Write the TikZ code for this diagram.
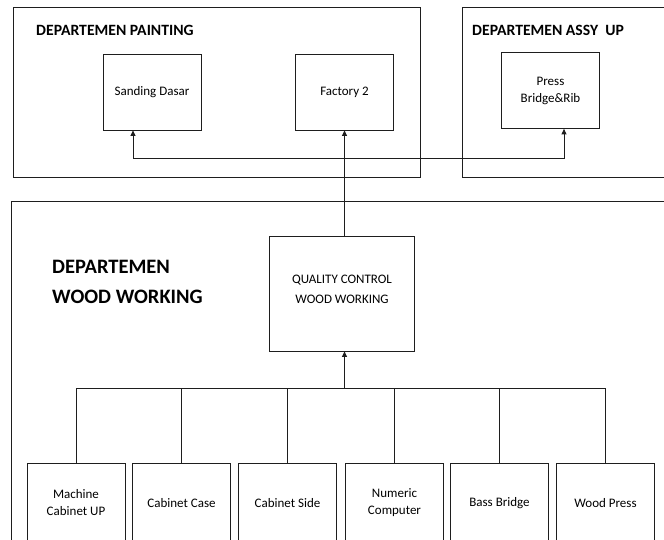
\documentclass[tikz,border=0pt]{standalone}
\usepackage{fontspec}
\setmainfont{Carlito}
\usetikzlibrary{arrows.meta,positioning}
\definecolor{frame}{HTML}{1E1E1E}

\begin{document}
\begin{tikzpicture}[x=1pt,y=-1pt,
  every node/.style={font=\fontsize{13}{17}\selectfont},
  dept/.style={draw=frame,line width=0.8pt,anchor=north west,inner sep=0pt},
  unit/.style={draw=frame,line width=0.8pt,minimum width=98pt,minimum height=76pt,align=center,inner sep=2pt},
  depttitle/.style={anchor=west,inner sep=0pt,font=\fontsize{15.7}{18}\selectfont\bfseries},
  link/.style={draw=frame,line width=0.8pt},
  arr/.style={link,-{Triangle[length=5.5pt,width=5pt]}}]
\useasboundingbox (0,0) rectangle (664,540);
\clip (0,0) rectangle (664,540);
% department frames
\node[dept,minimum width=407pt,minimum height=170pt] (painting) at (13,7) {};
\node[dept,minimum width=260pt,minimum height=170pt] (assy) at (462,7) {};
\node[dept,minimum width=700pt,minimum height=400pt] (woodworking) at (11,201) {};
\node[depttitle] (paintingtitle) at (36,30) {DEPARTEMEN PAINTING};
\node[depttitle] (assytitle) at (472,30) {DEPARTEMEN ASSY\ \ UP};
\node[depttitle,font=\fontsize{20.5}{30}\selectfont\bfseries,align=left] (wwtitle) at (52,282) {DEPARTEMEN\\WOOD WORKING};
% units
\node[unit] (sanding) at (152,92) {Sanding Dasar};
\node[unit] (factory) at (344.5,92) {Factory 2};
\node[unit] (press) at (550.5,90.5) {Press\\Bridge\&Rib};
\node[unit,minimum width=145pt,minimum height=115pt,font=\fontsize{13}{20}\selectfont] (qc) at (342,293.5) {QUALITY CONTROL\\WOOD WORKING\\[-12pt]};
\node[unit,minimum height=80pt] (machine) at (76,503) {Machine\\Cabinet UP};
\node[unit,minimum height=80pt] (case) at (181.5,503) {Cabinet Case};
\node[unit,minimum height=80pt] (side) at (287.5,503) {Cabinet Side};
\node[unit,minimum height=80pt] (numeric) at (394.5,503) {Numeric\\Computer};
\node[unit,minimum height=80pt] (bass) at (499.5,503) {Bass Bridge};
\node[unit,minimum height=80pt] (woodpress) at (605.5,503) {Wood Press};
% connectors
\coordinate (split) at (344.5,158);
\coordinate (merge) at (344.5,388);
\draw[arr] (qc.north -| factory.south) -- (factory.south);
\draw[arr] (split) -| ([xshift=-19pt]sanding.south);
\draw[arr] (split) -| ([xshift=13.5pt]press.south);
\draw[link] (machine.north) |- (merge);
\draw[link] (case.north) |- (merge);
\draw[link] (side.north) |- (merge);
\draw[link] (numeric.north) |- (merge);
\draw[link] (bass.north) |- (merge);
\draw[link] (woodpress.north) |- (merge);
\draw[arr] (merge) -- (merge |- qc.south);
\end{tikzpicture}
\end{document}
